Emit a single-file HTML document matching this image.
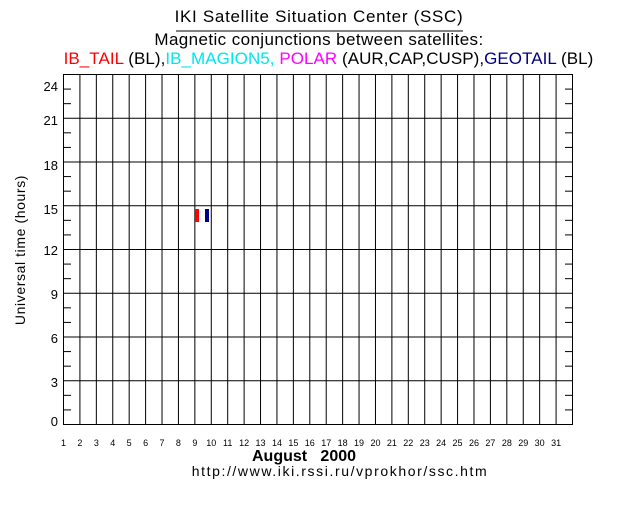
<!DOCTYPE html>
<html><head><style>
body{margin:0;background:#fff;width:636px;height:500px;overflow:hidden}
</style></head><body>
<svg width="636" height="500" xmlns="http://www.w3.org/2000/svg" font-family="Liberation Sans, sans-serif">
<rect width="636" height="500" fill="#fff"/>
<text x="319" y="22" font-size="17" text-anchor="middle" letter-spacing="0.7">IKI Satellite Situation Center (SSC)</text>
<line x1="176" y1="31" x2="463" y2="31" stroke="#000" stroke-width="1"/>
<text x="319" y="45" font-size="17" text-anchor="middle" letter-spacing="0.4">Magnetic conjunctions between satellites:</text>
<text x="328.5" y="64" font-size="17" text-anchor="middle" letter-spacing="0.05"><tspan fill="#f00">IB_TAIL</tspan> (BL),<tspan fill="#00e5ee">IB_MAGION5, </tspan><tspan fill="#f0f">POLAR</tspan> (AUR,CAP,CUSP),<tspan fill="#00007f">GEOTAIL</tspan> (BL)</text>
<g stroke="#000" stroke-width="1" fill="none">
<rect x="63.5" y="74.5" width="509" height="350"/>
</g>
<g id="g" stroke="#000" stroke-width="1"></g>
<rect x="195" y="209" width="4" height="13" fill="#f00"/>
<rect x="205" y="209" width="4" height="13" fill="#00007f"/>
<text transform="translate(25,250) rotate(-90)" font-size="14" text-anchor="middle" letter-spacing="0.6">Universal time (hours)</text>
<g font-size="13" text-anchor="end" id="yl"></g>
<g font-size="9" text-anchor="middle" id="xl"></g>
<text x="304" y="461" font-size="16" font-weight="bold" text-anchor="middle" xml:space="preserve">August   2000</text>
<text x="340" y="476" font-size="14" text-anchor="middle" letter-spacing="1.6" xml:space="preserve">http://www.iki.rssi.ru/vprokhor/ssc.htm</text>
</svg>
<script>
var ns="http://www.w3.org/2000/svg",g=document.getElementById('g');
function L(a,b,c,d){var l=document.createElementNS(ns,'line');l.setAttribute('x1',a);l.setAttribute('y1',b);l.setAttribute('x2',c);l.setAttribute('y2',d);g.appendChild(l);}
var w=509/31;
for(var k=1;k<31;k++){var x=63.5+k*w;L(x,74.5,x,424.5);}
var h=350/24;
for(var t=1;t<24;t++){var y=424.5-t*h;if(t%3==0)L(63.5,y,572.5,y);else{L(63.5,y,71,y);L(565,y,572.5,y);}}
var yl=document.getElementById('yl'),labs=[[0,426],[3,387],[6,343],[9,299],[12,255],[15,214],[18,170],[21,125],[24,91]];
labs.forEach(function(p){var t=document.createElementNS(ns,'text');t.setAttribute('x',58);t.setAttribute('y',p[1]);t.textContent=p[0];yl.appendChild(t);});
var xl=document.getElementById('xl');
for(var d=1;d<=31;d++){var t=document.createElementNS(ns,'text');t.setAttribute('x',63.5+(d-1)*w);t.setAttribute('y',446);t.textContent=d;xl.appendChild(t);}
</script>
</body></html>
